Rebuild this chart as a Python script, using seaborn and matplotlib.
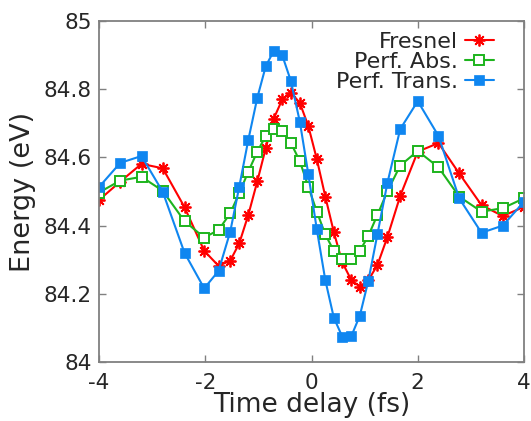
import matplotlib
matplotlib.use("Agg")
import matplotlib.pyplot as plt
import seaborn as sns
import pandas as pd

# ---- data ----
time_fs = [-4.0, -3.6, -3.2, -2.8, -2.39, -2.02, -1.75, -1.53, -1.36, -1.19, -1.02,
           -0.86, -0.71, -0.55, -0.39, -0.22, -0.06, 0.10, 0.26, 0.42, 0.58, 0.75,
           0.91, 1.07, 1.24, 1.43, 1.67, 2.0, 2.39, 2.78, 3.2, 3.6, 4.0]

fresnel = [84.475, 84.529, 84.581, 84.568, 84.454, 84.326, 84.282, 84.297, 84.348, 84.431,
           84.530, 84.628, 84.714, 84.770, 84.790, 84.760, 84.692, 84.595, 84.485, 84.381,
           84.292, 84.240, 84.221, 84.240, 84.284, 84.367, 84.487, 84.617, 84.642, 84.553,
           84.460, 84.428, 84.455]

perf_abs = [84.497, 84.532, 84.543, 84.502, 84.413, 84.365, 84.387, 84.436, 84.495, 84.558,
            84.617, 84.663, 84.684, 84.678, 84.643, 84.589, 84.514, 84.441, 84.374, 84.326,
            84.301, 84.301, 84.326, 84.370, 84.431, 84.501, 84.576, 84.619, 84.571, 84.485,
            84.441, 84.451, 84.480]

perf_trans = [84.513, 84.584, 84.604, 84.499, 84.320, 84.216, 84.267, 84.382, 84.514, 84.651,
              84.775, 84.868, 84.912, 84.899, 84.825, 84.705, 84.551, 84.389, 84.240, 84.130,
              84.074, 84.076, 84.136, 84.238, 84.374, 84.526, 84.683, 84.765, 84.663, 84.480,
              84.379, 84.400, 84.470]

series_names = ["Fresnel", "Perf. Abs.", "Perf. Trans."]
x_ticks = [-4, -2, 0, 2, 4]
x_tick_labels = ["-4", "-2", "0", "2", "4"]
y_ticks = [84.0, 84.2, 84.4, 84.6, 84.8, 85.0]
y_tick_labels = ["84", "84.2", "84.4", "84.6", "84.8", "85"]

# ---- styling ----
sns.set_style("ticks")
plt.rcParams["font.family"] = ["DejaVu Sans"]
plt.rcParams["xtick.direction"] = "in"
plt.rcParams["ytick.direction"] = "in"

fig = plt.figure(figsize=(5.31, 4.21), dpi=100)
ax = fig.add_axes([99 / 531, 1 - 362 / 421, (524 - 99) / 531, (362 - 21) / 421])

df = pd.DataFrame({"t": time_fs, "Fresnel": fresnel,
                   "Perf. Abs.": perf_abs, "Perf. Trans.": perf_trans})

styles = {
    "Fresnel": dict(color="#ff0000", marker=(8, 2, 0), markersize=8.5,
                    markeredgewidth=1.3, markerfacecolor="#ff0000",
                    markeredgecolor="#ff0000"),
    "Perf. Abs.": dict(color="#1db41d", marker="s", markersize=6.5,
                       markeredgewidth=1.4, markerfacecolor="white",
                       markeredgecolor="#1db41d"),
    "Perf. Trans.": dict(color="#0f86f0", marker="s", markersize=7,
                         markeredgewidth=0.5, markerfacecolor="#0f86f0",
                         markeredgecolor="#0f86f0"),
}

for name in series_names:
    sns.lineplot(data=df, x="t", y=name, ax=ax, label=name, linewidth=1.5,
                 **styles[name])

ax.set_xlim(-4, 4)
ax.set_ylim(84, 85)
ax.set_xticks(x_ticks)
ax.set_xticklabels(x_tick_labels)
ax.set_yticks(y_ticks)
ax.set_yticklabels(y_tick_labels)
ax.tick_params(axis="both", which="major", labelsize=15.5, length=5, width=1,
               color="#808080", top=True, right=True)
ax.tick_params(axis="x", pad=8)
ax.tick_params(axis="y", pad=5)
for sp in ax.spines.values():
    sp.set_color("#808080")
    sp.set_linewidth(1.3)

ax.set_xlabel("Time delay (fs)", fontsize=19, labelpad=-1)
ax.set_ylabel("Energy (eV)", fontsize=19.5, labelpad=6)

leg = ax.legend(loc="upper right", frameon=False, markerfirst=False, fontsize=16,
                handlelength=1.3, handletextpad=0.3, labelspacing=0.0,
                borderaxespad=0.1, bbox_to_anchor=(0.955, 1.0))

fig.savefig("out.png", dpi=100)
